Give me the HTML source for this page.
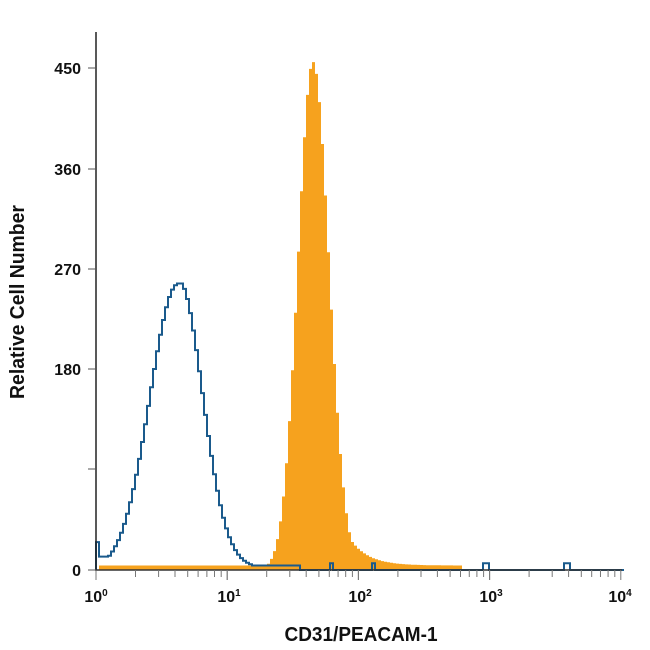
<!DOCTYPE html>
<html><head><style>
body{margin:0;background:#fff;}
svg{display:block;font-family:"Liberation Sans",sans-serif;}
</style></head><body>
<svg id="s" width="650" height="650" viewBox="0 0 650 650">
<g id="orange"></g>
<g id="blue"></g>
<line x1="96" y1="32" x2="96" y2="571" stroke="#222" stroke-width="1.5"/>
<line x1="95" y1="570" x2="622" y2="570" stroke="#333" stroke-width="1.5"/>
<g stroke="#555" stroke-width="1">
<line x1="88" y1="570" x2="96" y2="570"/><line x1="88" y1="469" x2="96" y2="469"/>
<line x1="88" y1="369" x2="96" y2="369"/><line x1="88" y1="269" x2="96" y2="269"/>
<line x1="88" y1="169" x2="96" y2="169"/><line x1="88" y1="68" x2="96" y2="68"/>
</g>
<g id="xt" stroke="#777" stroke-width="1"></g>
<g font-size="16" font-weight="bold" text-anchor="end" fill="#111">
<text x="81" y="576">0</text><text x="81" y="375">180</text><text x="81" y="275">270</text>
<text x="81" y="175">360</text><text x="81" y="74">450</text>
</g>
<g font-size="16" font-weight="bold" fill="#111" text-anchor="middle">
<text x="96" y="602">10<tspan font-size="10" dy="-6">0</tspan></text>
<text x="229" y="602">10<tspan font-size="10" dy="-6">1</tspan></text>
<text x="360" y="602">10<tspan font-size="10" dy="-6">2</tspan></text>
<text x="491" y="602">10<tspan font-size="10" dy="-6">3</tspan></text>
<text x="620" y="602">10<tspan font-size="10" dy="-6">4</tspan></text>
</g>
<text x="0" y="0" font-size="20" font-weight="bold" text-anchor="middle" fill="#111" transform="translate(361,641) scale(0.95,1)">CD31/PEACAM-1</text>
<text transform="translate(24,302) rotate(-90) scale(0.97,1)" font-size="20" font-weight="bold" text-anchor="middle" fill="#111">Relative Cell Number</text>
</svg>
<script>
var X0=96,D=131.2,Y0=570,K=1.1167;
var xt='';
for(var d=0;d<4;d++)for(var m=1;m<=10;m++){var x=X0+(d+Math.log10(m))*D;var L=(m==1||m==10)?10:7;xt+='<line x1="'+x+'" y1="570" x2="'+x+'" y2="'+(570+L)+'"/>';}
document.getElementById('xt').innerHTML=xt;
var W=3;
function orange(x){
 var c=313,h=455;var v;
 if(x<c) v=h*Math.exp(-Math.pow((x-c)/15,2)/2);
 else v=h*Math.exp(-Math.pow((x-c)/16,2)/2);
 if(x>335&&x<462) v=Math.max(v,4+32*Math.exp(-(x-345)/18));
 if(x>100&&x<462) v=Math.max(v,4);
 return v;
}
function blue(x){
 var c=178,h=256;var v;
 if(x<c) v=h*Math.exp(-Math.pow((x-c)/28,2)/2);
 else v=h*Math.exp(-Math.pow((x-c)/24,2)/2);
 if(x>c) v+=12*(1-Math.exp(-(x-c)/10))*Math.exp(-(x-c)/45);
 if(x<100) v=Math.max(v,25); else if(x<110) v=Math.max(v,12);
 if(x>230&&x<300) v=Math.max(v,4);
 if(x>300) v=0;
 if(Math.abs(x-487)<3||Math.abs(x-568)<3||Math.abs(x-331)<2||Math.abs(x-373)<2) v=6;
 return v;
}
function build(f,fill){
 var d='M96 '+Y0;
 for(var x=96;x<622;x+=W){var v=f(x+W/2);var y=(Y0-v*K).toFixed(1);d+=' L'+x+' '+y+' L'+(x+W)+' '+y;}
 d+=' L622 '+Y0;
 return fill?'<path d="'+d+' Z" fill="#f6a21e"/>':'<path d="'+d+'" fill="none" stroke="#1a5a8c" stroke-width="2"/>';
}
document.getElementById('orange').innerHTML=build(orange,true);
document.getElementById('blue').innerHTML=build(blue,false);
</script>
</body></html>
